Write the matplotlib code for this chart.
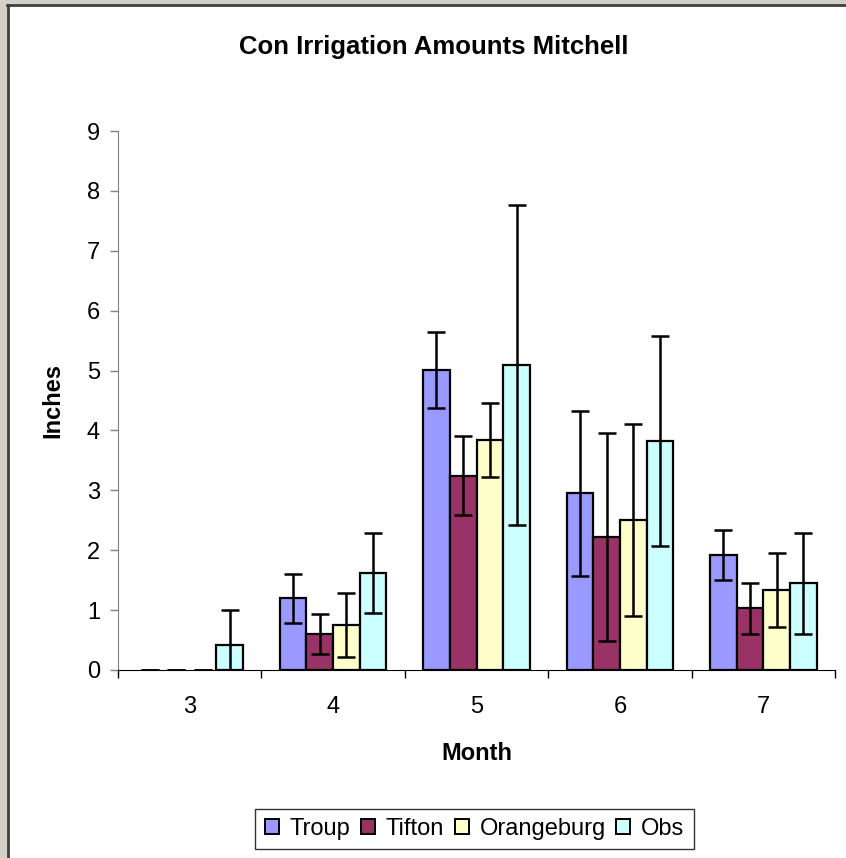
"""Con irrigation amounts at Mitchell, by month: three soils vs observed."""
import numpy as np
import matplotlib
matplotlib.use("Agg")
import matplotlib.pyplot as plt
from matplotlib.patches import Patch, Rectangle
from matplotlib.lines import Line2D

# values (inches)
months = ["3", "4", "5", "6", "7"]
series = ["Troup", "Tifton", "Orangeburg", "Obs"]
troup = [0.0, 1.20, 5.01, 2.95, 1.92]
troup_err = [0.0, 0.41, 0.64, 1.38, 0.42]
tifton = [0.0, 0.60, 3.24, 2.215, 1.03]
tifton_err = [0.0, 0.34, 0.66, 1.735, 0.43]
orangeburg = [0.0, 0.75, 3.84, 2.50, 1.33]
orangeburg_err = [0.0, 0.53, 0.62, 1.60, 0.62]
obs = [0.41, 1.62, 5.09, 3.825, 1.445]
obs_err = [0.60, 0.66, 2.67, 1.755, 0.845]

colors = ["#9999FF", "#993366", "#FFFFCC", "#CCFFFF"]

plt.rcParams["font.family"] = ["Liberation Sans", "DejaVu Sans"]

W, H = 846, 858
fig = plt.figure(figsize=(W / 100, H / 100), dpi=100, facecolor="#D4D0C8")

# white chart area with dark left/top border (Excel screenshot look)
fig.patches.append(Rectangle((8 / W, 0), 1, (H - 5) / H, transform=fig.transFigure,
                             facecolor="white", edgecolor="none", zorder=-2))
fig.lines.append(Line2D([7.5 / W, 7.5 / W], [0, (H - 4.5) / H], transform=fig.transFigure,
                        color="#404040", lw=2, zorder=-1))
fig.lines.append(Line2D([7 / W, 1], [(H - 4.5) / H, (H - 4.5) / H], transform=fig.transFigure,
                        color="#404040", lw=2, zorder=-1))

ax = fig.add_axes([118 / W, 188 / H, 717 / W, 539 / H])
ax.set_facecolor("none")

x = np.arange(len(months))
bw = 0.186
vals = [troup, tifton, orangeburg, obs]
errs = [troup_err, tifton_err, orangeburg_err, obs_err]
for k, (v, e) in enumerate(zip(vals, errs)):
    pos = x + (k - 1.5) * bw
    lw = [0 if vv == 0 else 1.6 for vv in v]
    ax.bar(pos, v, width=bw, color=colors[k], edgecolor="black", linewidth=lw, zorder=2)
    ax.errorbar(pos, v, yerr=e, fmt="none", ecolor="black", elinewidth=1.8,
                capsize=6.4, capthick=1.8, zorder=3)

ax.set_xlim(-0.5, len(months) - 0.5)
ax.set_ylim(0, 9)
ax.set_yticks(range(0, 10))

# ticks on category boundaries, labels at centres
ax.set_xticks(np.arange(-0.5, len(months), 1.0))
ax.set_xticklabels([])
ax.set_xticks(x, minor=True)
ax.set_xticklabels(months, minor=True)
ax.tick_params(axis="x", which="major", direction="out", length=6, width=1, color="black")
ax.tick_params(axis="x", which="minor", length=0, pad=19, labelsize=17)
ax.tick_params(axis="y", direction="out", length=6, width=1, color="#808080", pad=7,
               labelsize=17)

for s in ("top", "right"):
    ax.spines[s].set_visible(False)
ax.spines["left"].set_color("#808080")
ax.spines["bottom"].set_color("black")

fig.text(434 / W, (H - 47) / H, "Con Irrigation Amounts Mitchell", ha="center", va="center",
         fontsize=18.5, fontweight="bold")
fig.text(53 / W, (H - 400) / H, "Inches", rotation=90, ha="center", va="center",
         fontsize=17, fontweight="bold")
fig.text(477 / W, (H - 753) / H, "Month", ha="center", va="center",
         fontsize=17, fontweight="bold")

handles = [Patch(facecolor=c, edgecolor="black", linewidth=1.4) for c in colors]
leg = fig.legend(handles, series, loc="center", bbox_to_anchor=(474.5 / W, (H - 829) / H),
                 ncol=4, fontsize=17, frameon=True, fancybox=False, edgecolor="black",
                 handlelength=0.6, handleheight=0.6, handletextpad=0.45,
                 columnspacing=0.45, borderpad=0.4, borderaxespad=0)
leg.get_frame().set_linewidth(1.0)

fig.savefig("out.png", dpi=100, facecolor=fig.get_facecolor())
